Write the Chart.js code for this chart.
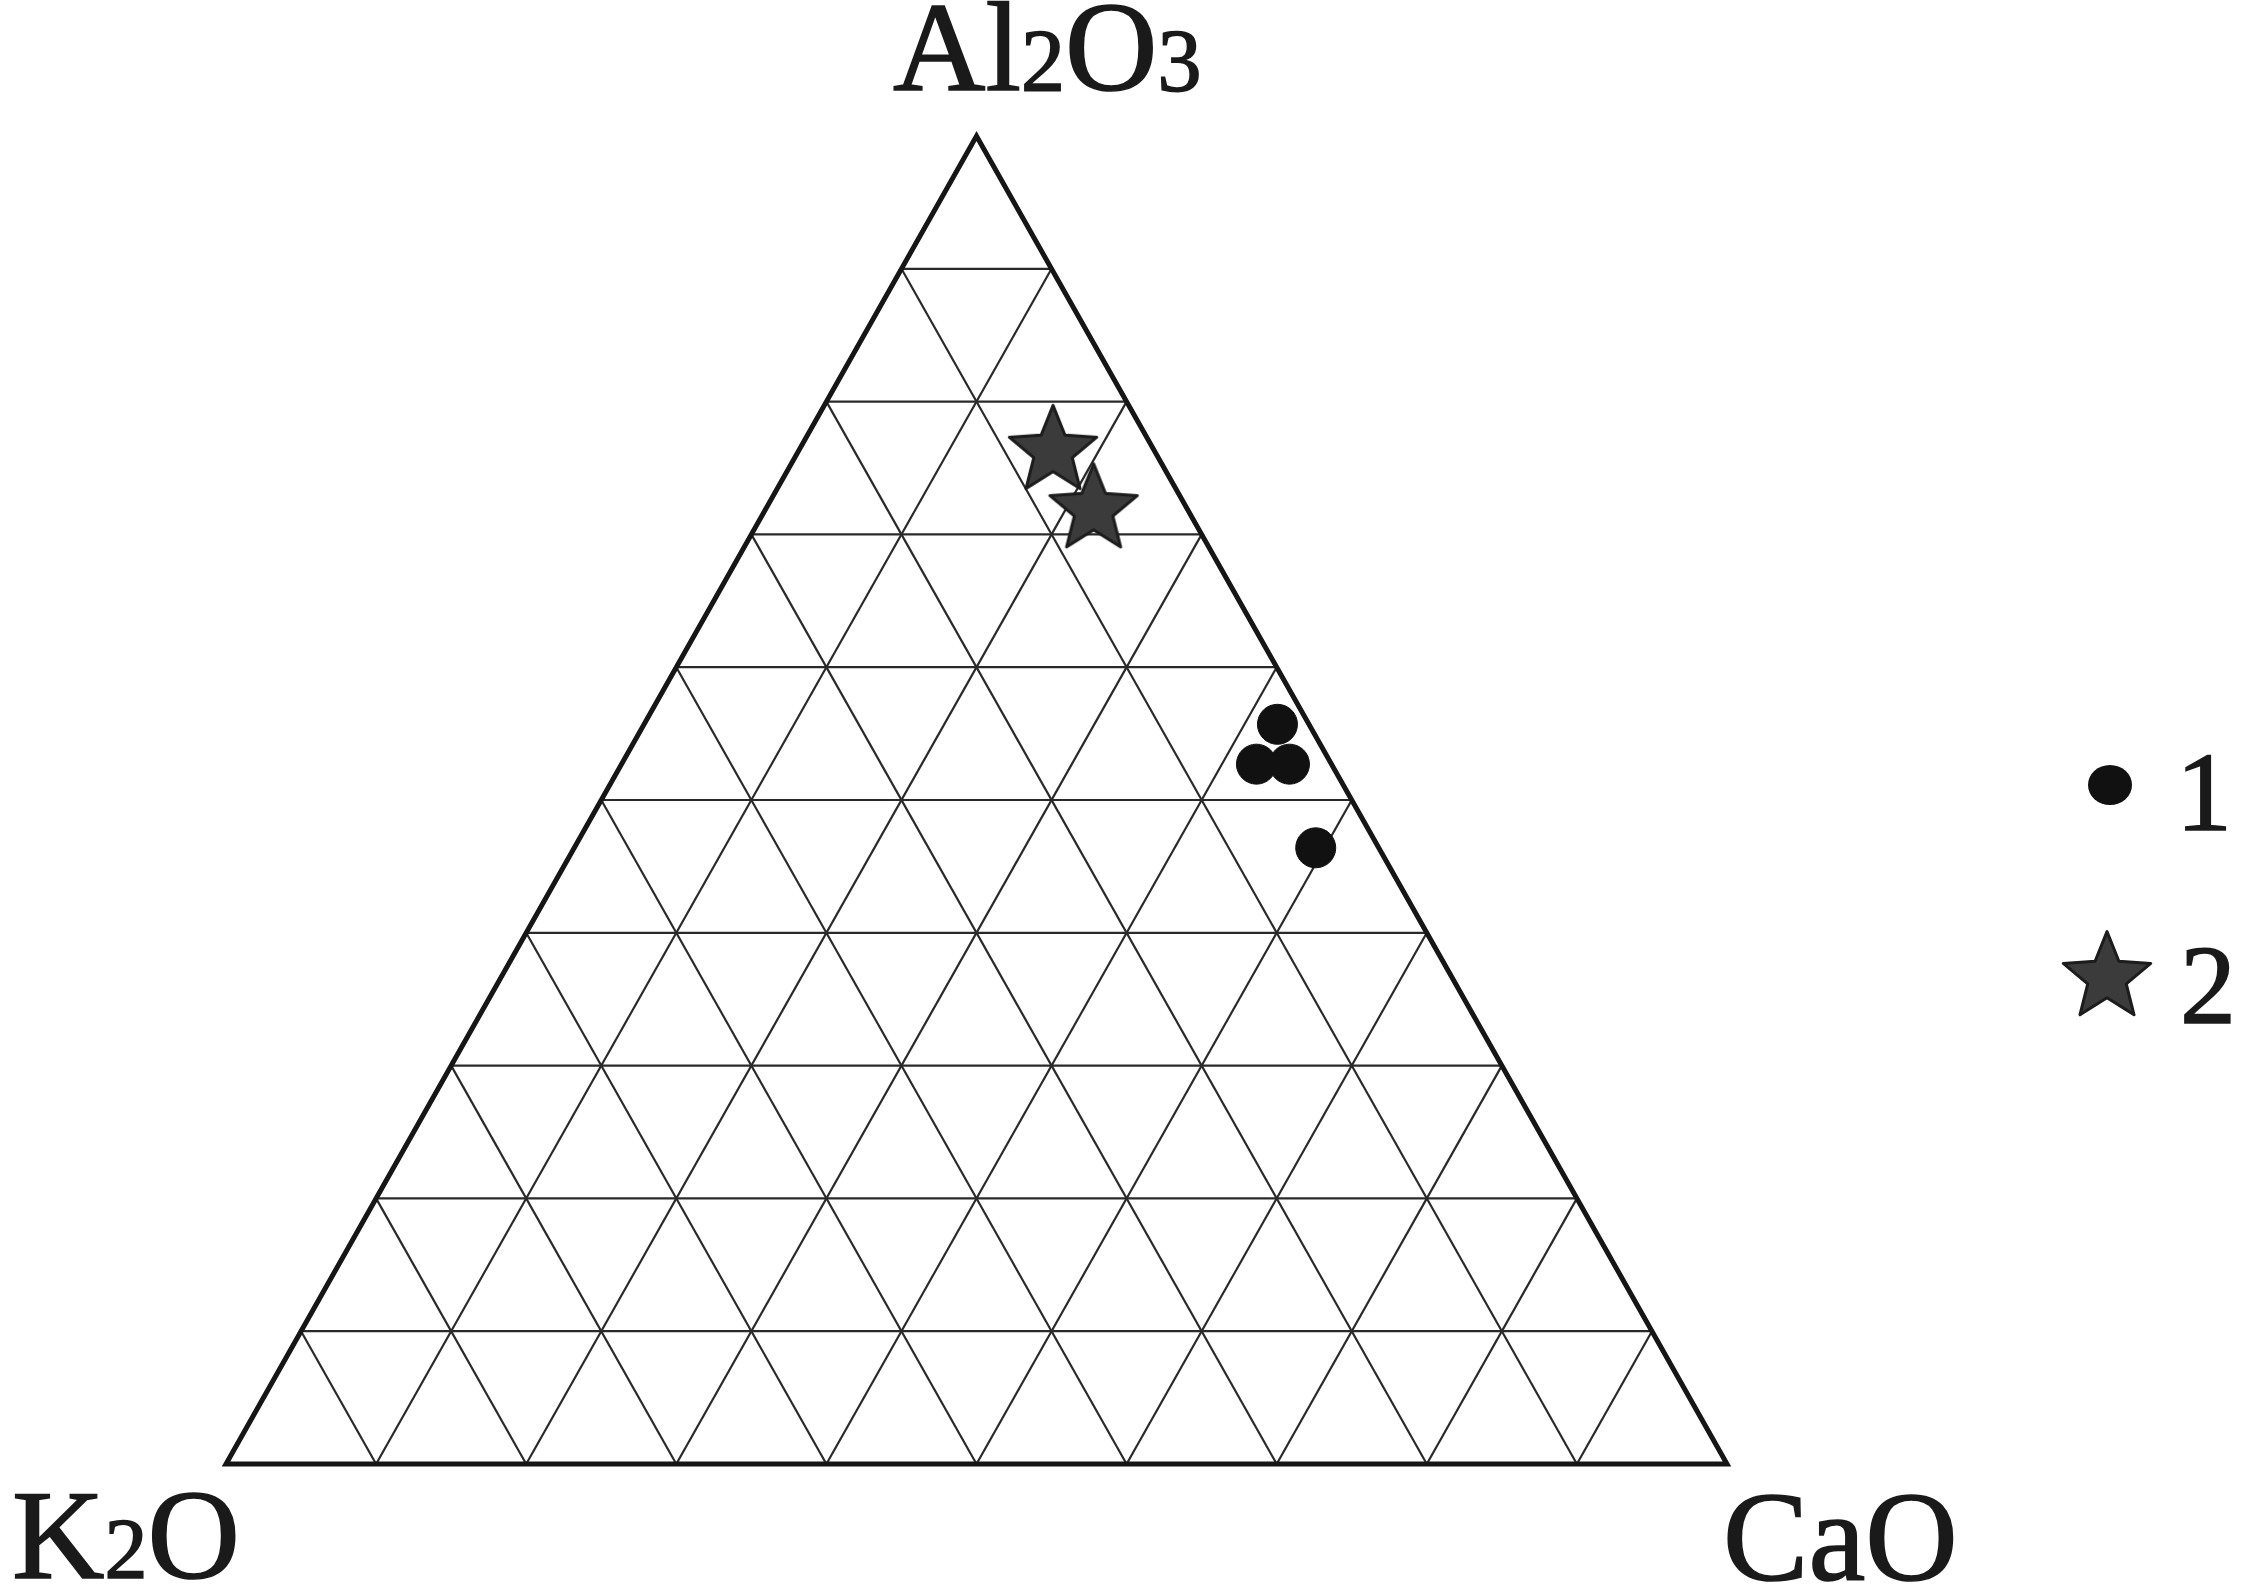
<!DOCTYPE html>
<html>
<head>
<meta charset="utf-8">
<script src="https://cdn.jsdelivr.net/npm/chart.js@4.4.1/dist/chart.umd.min.js"></script>
<style>
  html, body { margin: 0; padding: 0; background: #fff; }
  #wrap { width: 2246px; height: 1588px; }
</style>
</head>
<body>
<div id="wrap"><canvas id="ternary-chart" width="2246" height="1588"></canvas></div>
<script>
// ternary data (fractions)
const apexLabels = ["Al2O3", "K2O", "CaO"];
const gridTicks = [0.1, 0.2, 0.3, 0.4, 0.5, 0.6, 0.7, 0.8, 0.9];
const seriesLabels = ["1", "2"];

// series 1 (circles)
const s1Al2O3 = [0.557, 0.527, 0.527, 0.464];
const s1CaO = [0.422, 0.423, 0.445, 0.494];
const s1K2O = [0.021, 0.050, 0.028, 0.042];

// series 2 (stars)
const s2Al2O3 = [0.766, 0.722];
const s2CaO = [0.168, 0.217];
const s2K2O = [0.066, 0.061];

// ternary -> cartesian (K2O bottom-left, CaO bottom-right, Al2O3 top)
const toXY = (al, ca, k) => {
  const s = al + ca + k;
  return { x: (ca + al / 2) / s, y: al / s };
};

// filled star used as point style
const makeStar = (R, fill, stroke) => {
  const c = document.createElement("canvas");
  const size = Math.ceil(R * 2 + 6);
  c.width = size;
  c.height = size;
  const g = c.getContext("2d");
  const cx = size / 2, cy = size / 2 + R * 0.1;
  const r = R * 0.44;
  g.beginPath();
  for (let i = 0; i < 10; i++) {
    const rad = i % 2 === 0 ? R : r;
    const ang = -Math.PI / 2 + (i * Math.PI) / 5;
    const px = cx + rad * Math.cos(ang);
    const py = cy + rad * Math.sin(ang);
    if (i === 0) g.moveTo(px, py);
    else g.lineTo(px, py);
  }
  g.closePath();
  g.fillStyle = fill;
  g.fill();
  g.lineWidth = 3;
  g.lineJoin = "round";
  g.strokeStyle = stroke;
  g.stroke();
  return c;
};

const starImg = makeStar(46, "#3b3b3b", "#1c1c1c");

// grid lines parallel to each side
const gridSets = [];
gridTicks.forEach((t) => {
  const lines = [
    [toXY(t, 1 - t, 0), toXY(t, 0, 1 - t)], // Al2O3 = t
    [toXY(1 - t, t, 0), toXY(0, t, 1 - t)], // CaO = t
    [toXY(1 - t, 0, t), toXY(0, 1 - t, t)], // K2O = t
  ];
  lines.forEach((pts) => {
    gridSets.push({
      type: "scatter",
      data: pts,
      showLine: true,
      borderColor: "#2a2a2a",
      borderWidth: 2.2,
      pointRadius: 0,
      clip: false,
      order: 3,
    });
  });
});

const outline = {
  type: "scatter",
  data: [toXY(0, 0, 1), toXY(0, 1, 0), toXY(1, 0, 0), toXY(0, 0, 1), toXY(0, 1, 0)],
  showLine: true,
  borderColor: "#161616",
  borderWidth: 5,
  borderJoinStyle: "miter",
  pointRadius: 0,
  clip: false,
  order: 2,
};

const circles = {
  type: "scatter",
  label: seriesLabels[0],
  data: s1Al2O3.map((a, i) => toXY(a, s1CaO[i], s1K2O[i])),
  pointStyle: "circle",
  pointRadius: 20,
  backgroundColor: "#111",
  borderColor: "#111",
  borderWidth: 1,
  clip: false,
  order: 1,
};

const stars = {
  type: "scatter",
  label: seriesLabels[1],
  data: s2Al2O3.map((a, i) => toXY(a, s2CaO[i], s2K2O[i])),
  pointStyle: starImg,
  clip: false,
  order: 0,
};

// text with subscripted digits, drawn left to right
const drawFormula = (ctx, text, x, y, big, small) => {
  let cx = x;
  for (const ch of text) {
    const isDigit = /[0-9]/.test(ch);
    ctx.font = `${isDigit ? small : big}px "Liberation Serif", "Times New Roman", serif`;
    ctx.fillText(ch, cx, y);
    ctx.strokeText(ch, cx, y);
    cx += ctx.measureText(ch).width;
  }
};

const labelsPlugin = {
  id: "ternaryLabels",
  afterDraw(chart) {
    const ctx = chart.ctx;
    ctx.save();
    ctx.fillStyle = "#1a1a1a";
    ctx.strokeStyle = "#1a1a1a";
    ctx.lineWidth = 1.6;
    ctx.textBaseline = "alphabetic";
    ctx.textAlign = "left";
    drawFormula(ctx, apexLabels[0], 893, 90, 128, 88);
    drawFormula(ctx, apexLabels[1], 12, 1578, 128, 86);
    drawFormula(ctx, apexLabels[2], 1723, 1580, 128, 88);

    // legend
    ctx.beginPath();
    ctx.ellipse(2110, 785, 22, 20, 0, 0, Math.PI * 2);
    ctx.fillStyle = "#111";
    ctx.fill();
    ctx.drawImage(starImg, 2107 - starImg.width / 2, 973 - starImg.height / 2);
    ctx.fillStyle = "#1a1a1a";
    ctx.font = '112px "Liberation Serif", "Times New Roman", serif';
    ctx.fillText(seriesLabels[0], 2176, 830);
    ctx.strokeText(seriesLabels[0], 2176, 830);
    ctx.fillText(seriesLabels[1], 2180, 1023);
    ctx.strokeText(seriesLabels[1], 2180, 1023);
    ctx.restore();
  },
};

const bgPlugin = {
  id: "bg",
  beforeDraw(chart) {
    const ctx = chart.ctx;
    ctx.save();
    ctx.fillStyle = "#fff";
    ctx.fillRect(0, 0, chart.width, chart.height);
    ctx.restore();
  },
};

new Chart(document.getElementById("ternary-chart"), {
  type: "scatter",
  data: { datasets: [...gridSets, outline, circles, stars] },
  options: {
    responsive: false,
    animation: false,
    layout: { padding: { left: 226, right: 519, top: 136, bottom: 124 } },
    scales: {
      x: { type: "linear", min: 0, max: 1, display: false },
      y: { type: "linear", min: 0, max: 1, display: false },
    },
    plugins: {
      legend: { display: false },
      tooltip: { enabled: false },
    },
  },
  plugins: [bgPlugin, labelsPlugin],
});
</script>
</body>
</html>
